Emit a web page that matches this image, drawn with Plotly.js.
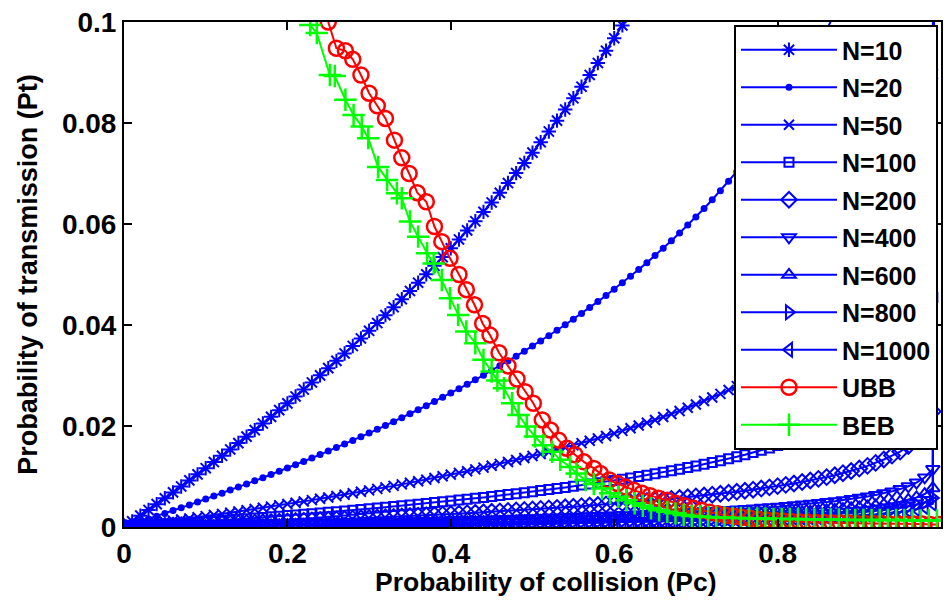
<!DOCTYPE html>
<html>
<head>
<meta charset="utf-8">
<script src="https://cdn.plot.ly/plotly-3.0.1.min.js"></script>
<style>html,body{margin:0;padding:0;background:#fff;}#chart{width:944px;height:609px;}</style>
</head>
<body>
<div id="chart"></div>
<script>
// Probability of collision (Pc) grid used by the N curves
const pc = [0,0.01,0.02,0.03,0.04,0.05,0.06,0.07,0.08,0.09,
  0.10,0.11,0.12,0.13,0.14,0.15,0.16,0.17,0.18,0.19,
  0.20,0.21,0.22,0.23,0.24,0.25,0.26,0.27,0.28,0.29,
  0.30,0.31,0.32,0.33,0.34,0.35,0.36,0.37,0.38,0.39,
  0.40,0.41,0.42,0.43,0.44,0.45,0.46,0.47,0.48,0.49,
  0.50,0.51,0.52,0.53,0.54,0.55,0.56,0.57,0.58,0.59,
  0.60,0.61,0.62,0.63,0.64,0.65,0.66,0.67,0.68,0.69,
  0.70,0.71,0.72,0.73,0.74,0.75,0.76,0.77,0.78,0.79,
  0.80,0.81,0.82,0.83,0.84,0.85,0.86,0.87,0.88,0.89,
  0.90,0.91,0.92,0.93,0.94,0.95,0.96,0.97,0.98,0.99,1.00];

const ptN10 = [0,0.001116,0.002242,0.003379,0.004526,0.005683,0.006851,0.008031,0.009222,0.010424,
  0.011639,0.012865,0.014103,0.015354,0.016619,0.017896,0.019186,0.020490,0.021809,0.023141,
  0.024489,0.025851,0.027229,0.028623,0.030033,0.031459,0.032903,0.034364,0.035842,0.037339,
  0.038856,0.040391,0.041946,0.043522,0.045119,0.046738,0.048378,0.050042,0.051729,0.053441,
  0.055178,0.056941,0.058730,0.060547,0.062393,0.064268,0.066174,0.068111,0.070080,0.072086,
  0.074125,0.076201,0.078315,0.080469,0.082664,0.084901,0.087182,0.089510,0.091886,0.094312,
  0.096793,0.099330,0.101926];

const ptN20 = [0,0.000529,0.001063,0.001602,0.002146,0.002696,0.003251,0.003812,0.004379,0.004952,
  0.005530,0.006114,0.006705,0.007303,0.007907,0.008517,0.009135,0.009759,0.010391,0.011030,
  0.011676,0.012330,0.012992,0.013662,0.014340,0.015027,0.015723,0.016428,0.017141,0.017865,
  0.018597,0.019341,0.020094,0.020857,0.021632,0.022418,0.023215,0.024025,0.024846,0.025680,
  0.026527,0.027388,0.028263,0.029152,0.030056,0.030975,0.031911,0.032863,0.033831,0.034818,
  0.035823,0.036849,0.037893,0.038959,0.040046,0.041156,0.042290,0.043447,0.044631,0.045842,
  0.047082,0.048350,0.049650,0.050983,0.052350,0.053755,0.055197,0.056681,0.058207,0.059779,
  0.061401,0.063074,0.064803,0.066591,0.068444,0.070364,0.072359,0.074435,0.076598,0.078856,
  0.081218,0.083692,0.086292,0.089030,0.091925,0.095025,0.098306,0.101816,0.105600];

const ptN50 = [0,0.000205,0.000412,0.000622,0.000833,0.001046,0.001262,0.00148,0.0017,0.001923,
  0.002148,0.002375,0.002606,0.002838,0.003073,0.003311,0.003552,0.003796,0.004042,0.004291,
  0.004544,0.004799,0.005058,0.00532,0.005585,0.005854,0.006126,0.006402,0.006682,0.006966,
  0.007253,0.007544,0.00784,0.00814,0.008444,0.008752,0.009067,0.009385,0.009708,0.010037,
  0.010371,0.010710,0.011055,0.011406,0.011763,0.012127,0.012496,0.012873,0.013257,0.013648,
  0.014046,0.014452,0.014867,0.015290,0.015723,0.016163,0.016615,0.017076,0.017547,0.018030,
  0.018526,0.019032,0.019553,0.020087,0.020634,0.021198,0.021776,0.022373,0.022986,0.023618,
  0.024272,0.024947,0.025646,0.026369,0.027118,0.027896,0.028705,0.029548,0.030429,0.031350,
  0.032313,0.033325,0.034391,0.035516,0.036709,0.037977,0.039331,0.040784,0.042350,0.044047,
  0.045905,0.047954,0.050240,0.052823,0.055800,0.059306,0.063580,0.069062,0.076735,0.089705,1];

const ptN100 = [0,0.000102,0.000204,0.000308,0.000412,0.000518,0.000625,0.000733,0.000842,0.000953,
  0.001064,0.001177,0.001291,0.001407,0.001523,0.001642,0.001761,0.001882,0.002005,0.002128,
  0.002254,0.002381,0.00251,0.00264,0.002772,0.002906,0.003041,0.003179,0.003318,0.003459,
  0.003603,0.003748,0.003896,0.004045,0.004197,0.004351,0.004508,0.004667,0.004829,0.004993,
  0.00516,0.00533,0.005502,0.005678,0.005857,0.006039,0.006224,0.006413,0.006605,0.006801,
  0.007001,0.007206,0.007414,0.007627,0.007844,0.008066,0.008293,0.008525,0.008763,0.009006,
  0.009212,0.009466,0.009726,0.009993,0.010267,0.010548,0.010838,0.011135,0.011443,0.01176,
  0.012087,0.012426,0.012775,0.013138,0.013515,0.013905,0.014311,0.014735,0.015178,0.015640,
  0.016125,0.016635,0.017172,0.017740,0.018341,0.018981,0.019664,0.020397,0.021189,0.022049,
  0.022991,0.024030,0.025189,0.026503,0.028018,0.029807,0.031991,0.034800,0.038745,0.045451,1];

const ptN200 = [0,0.0000505,0.0001015,0.000153,0.000205,0.000258,0.000311,0.000365,0.000419,0.000474,
  0.000529,0.000586,0.000642,0.0007,0.000758,0.000817,0.000876,0.000936,0.000997,0.001059,
  0.001121,0.001185,0.001249,0.001313,0.001379,0.001446,0.001513,0.001581,0.001651,0.001721,
  0.001792,0.001865,0.001938,0.002012,0.002088,0.002165,0.002243,0.002322,0.002402,0.002484,
  0.002567,0.002651,0.002737,0.002825,0.002914,0.003004,0.003096,0.00319,0.003286,0.003384,
  0.003483,0.003585,0.003688,0.003794,0.003902,0.004013,0.004126,0.004241,0.004359,0.00448,
  0.004604,0.004732,0.004862,0.004996,0.005134,0.005275,0.005421,0.005571,0.005726,0.005885,
  0.00605,0.006221,0.006397,0.00658,0.006769,0.006966,0.007172,0.007385,0.007609,0.007842,
  0.008088,0.008345,0.008617,0.008904,0.009209,0.009533,0.00988,0.010252,0.010655,0.011092,
  0.011571,0.0121,0.012692,0.013363,0.014138,0.014941,0.016044,0.017466,0.019465,0.022877,1];

const ptN400 = [0,0.0000252,0.0000506,0.0000763,0.0001023,0.0001286,0.0001551,0.0001819,0.000209,0.0002364,
  0.0002641,0.0002921,0.0003204,0.000349,0.000378,0.0004073,0.000437,0.000467,0.0004974,0.0005281,
  0.0005593,0.0005908,0.0006227,0.000655,0.0006878,0.000721,0.0007547,0.0007887,0.0008233,0.0008584,
  0.0008939,0.00093,0.0009666,0.0010037,0.0010414,0.0010797,0.0011185,0.001158,0.0011981,0.0012388,
  0.0012803,0.0013224,0.0013652,0.0014088,0.0014532,0.0014983,0.0015443,0.0015912,0.0016389,0.0016876,
  0.0017372,0.0017878,0.0018395,0.0018923,0.0019462,0.0020013,0.0020576,0.0021152,0.0021742,0.0022346,
  0.0022965,0.0023599,0.002425,0.0024919,0.0025605,0.0026311,0.0027038,0.0027786,0.0028557,0.0029353,
  0.0030175,0.0031024,0.0031904,0.0032815,0.0033761,0.0034744,0.0035767,0.0036834,0.0037948,0.0039114,
  0.0040337,0.0041622,0.0042977,0.004441,0.0045929,0.0047547,0.0049276,0.0051133,0.0053139,0.005532,
  0.005771,0.006035,0.00633,0.006665,0.007051,0.007508,0.008067,0.008788,0.009805,0.011475,1];

const ptN600 = [0,0.0000168,0.0000337,0.0000509,0.0000682,0.0000856,0.0001033,0.0001212,0.0001392,0.0001574,
  0.0001759,0.0001945,0.0002134,0.0002325,0.0002518,0.0002713,0.0002911,0.0003111,0.0003313,0.0003518,
  0.0003725,0.0003935,0.0004148,0.0004363,0.0004582,0.0004803,0.0005027,0.0005254,0.0005484,0.0005718,
  0.0005955,0.0006195,0.0006438,0.0006686,0.0006937,0.0007192,0.0007451,0.0007713,0.000798,0.0008252,
  0.0008528,0.0008809,0.0009094,0.0009384,0.000968,0.000998,0.0010287,0.0010599,0.0010917,0.0011241,
  0.0011572,0.0011909,0.0012253,0.0012605,0.0012964,0.0013331,0.0013706,0.001409,0.0014483,0.0014885,
  0.0015297,0.001572,0.0016153,0.0016599,0.0017056,0.0017526,0.001801,0.0018509,0.0019022,0.0019552,
  0.00201,0.0020666,0.0021252,0.0021859,0.0022489,0.0023144,0.0023825,0.0024536,0.0025278,0.0026054,
  0.0026869,0.0027725,0.0028627,0.0029582,0.0030594,0.0031672,0.0032823,0.003406,0.0035397,0.0036849,
  0.0038441,0.0040199,0.0042166,0.0044395,0.0046968,0.0050012,0.0053737,0.005854,0.0065309,0.0076881,1];

const ptN800 = [0,0.0000126,0.0000253,0.0000381,0.0000511,0.0000642,0.0000774,0.0000908,0.0001044,0.000118,
  0.0001319,0.0001458,0.00016,0.0001743,0.0001888,0.0002034,0.0002182,0.0002332,0.0002484,0.0002637,
  0.0002793,0.000295,0.000311,0.0003271,0.0003435,0.0003601,0.0003769,0.0003939,0.0004111,0.0004286,
  0.0004464,0.0004644,0.0004827,0.0005012,0.00052,0.0005392,0.0005586,0.0005783,0.0005983,0.0006186,
  0.0006393,0.0006604,0.0006818,0.0007035,0.0007257,0.0007482,0.0007712,0.0007946,0.0008184,0.0008427,
  0.0008675,0.0008928,0.0009186,0.000945,0.0009719,0.0009994,0.0010275,0.0010563,0.0010857,0.0011159,
  0.0011468,0.0011785,0.001211,0.0012444,0.0012787,0.0013139,0.0013502,0.0013876,0.0014261,0.0014658,
  0.0015069,0.0015493,0.0015932,0.0016387,0.001686,0.0017351,0.0017861,0.0018394,0.001895,0.0019533,
  0.0020143,0.0020785,0.0021462,0.0022177,0.0022936,0.0023744,0.0024607,0.0025535,0.0026536,0.0027625,
  0.0028819,0.0030137,0.0031611,0.0033282,0.0035212,0.0037494,0.0040286,0.0043887,0.0048962,0.0057637,1];

const ptN1000 = [0,0.0000101,0.0000202,0.0000305,0.0000409,0.0000513,0.0000619,0.0000726,0.0000835,0.0000944,
  0.0001055,0.0001166,0.000128,0.0001394,0.000151,0.0001627,0.0001745,0.0001865,0.0001987,0.0002109,
  0.0002234,0.000236,0.0002487,0.0002616,0.0002747,0.000288,0.0003014,0.000315,0.0003288,0.0003428,
  0.000357,0.0003714,0.0003861,0.0004009,0.0004159,0.0004312,0.0004467,0.0004625,0.0004785,0.0004948,
  0.0005113,0.0005282,0.0005453,0.0005627,0.0005804,0.0005984,0.0006168,0.0006355,0.0006546,0.000674,
  0.0006938,0.0007141,0.0007347,0.0007558,0.0007773,0.0007993,0.0008218,0.0008448,0.0008684,0.0008925,
  0.0009172,0.0009426,0.0009686,0.0009953,0.0010227,0.0010509,0.0010799,0.0011098,0.0011406,0.0011724,
  0.0012052,0.0012391,0.0012742,0.0013106,0.0013484,0.0013877,0.0014286,0.0014712,0.0015156,0.0015622,
  0.001611,0.0016624,0.0017165,0.0017737,0.0018344,0.001899,0.0019681,0.0020423,0.0021224,0.0022095,
  0.0023049,0.0024104,0.0025283,0.0026619,0.0028163,0.0029988,0.0032221,0.0035101,0.003916,0.0046098,1];

// UBB
const ubbPc = [0.250,0.260,0.271,0.280,0.290,0.300,0.310,0.320,0.331,0.340,
  0.349,0.359,0.370,0.380,0.389,0.399,0.410,0.419,0.429,0.439,
  0.448,0.459,0.470,0.481,0.491,0.501,0.512,0.522,0.532,0.542,
  0.552,0.563,0.575,0.583,0.594,0.604,0.614,0.624,0.634,0.644,
  0.654,0.665,0.675,0.686,0.697,0.707,0.717,0.727,0.737,0.747,
  0.757,0.767,0.777,0.787,0.797,0.807,0.817,0.827,0.837,0.847,
  0.857,0.867,0.877,0.887,0.897,0.907,0.917,0.927,0.937,0.947,
  0.957,0.967,0.977,0.987,0.997];
const ubbPt = [0.1000,0.0948,0.0943,0.0926,0.0895,0.0859,0.0834,0.0809,0.0766,0.0731,
  0.0700,0.0662,0.0644,0.0595,0.0565,0.0532,0.0500,0.0470,0.0440,0.0403,
  0.0380,0.0345,0.0319,0.0293,0.0268,0.0245,0.0212,0.0192,0.0172,0.0156,
  0.0143,0.0129,0.0116,0.0106,0.0093,0.0086,0.0079,0.0073,0.0067,0.0062,
  0.0057,0.0053,0.0047,0.0042,0.0037,0.0033,0.0029,0.0026,0.0023,0.0021,
  0.0019,0.0017,0.0015,0.0014,0.0013,0.0012,0.0011,0.0010,0.0010,0.0009,
  0.0009,0.0008,0.0008,0.0008,0.0007,0.0007,0.0007,0.0007,0.0006,0.0006,
  0.0006,0.0006,0.0006,0.0005,0.0005];

// BEB
const bebPc = [0.228,0.236,0.252,0.258,0.271,0.281,0.291,0.299,0.311,0.322,
  0.334,0.340,0.350,0.360,0.371,0.379,0.389,0.399,0.409,0.419,
  0.430,0.440,0.450,0.457,0.465,0.475,0.483,0.493,0.503,0.513,
  0.524,0.534,0.546,0.554,0.565,0.575,0.585,0.595,0.605,0.615,
  0.625,0.635,0.645,0.655,0.665,0.675,0.685,0.695,0.705,0.715,
  0.725,0.735,0.745,0.755,0.765,0.775,0.785,0.795,0.805,0.815,
  0.825,0.835,0.845,0.855,0.865,0.875,0.885,0.895,0.905,0.915,
  0.925,0.935,0.945,0.955,0.965,0.975,0.985,0.995];
const bebPt = [0.0994,0.0978,0.0895,0.0893,0.0846,0.0816,0.0793,0.0770,0.0713,0.0687,
  0.0661,0.0651,0.0605,0.0575,0.0542,0.0522,0.0489,0.0453,0.0420,0.0387,
  0.0364,0.0331,0.0308,0.0290,0.0275,0.0245,0.0222,0.0199,0.0179,0.0162,
  0.0149,0.0133,0.0119,0.0106,0.0093,0.0085,0.0076,0.0067,0.0060,0.0053,
  0.0047,0.0042,0.0037,0.0033,0.0030,0.0027,0.0024,0.0022,0.0021,0.0020,
  0.0019,0.0019,0.0018,0.0018,0.0017,0.0017,0.0017,0.0016,0.0016,0.0016,
  0.0016,0.0015,0.0015,0.0015,0.0015,0.0015,0.0014,0.0014,0.0014,0.0014,
  0.0014,0.0014,0.0014,0.0014,0.0013,0.0013,0.0013,0.0013];

const seriesNames = ["N=10","N=20","N=50","N=100","N=200","N=400","N=600","N=800","N=1000"];
const seriesPt = [ptN10, ptN20, ptN50, ptN100, ptN200, ptN400, ptN600, ptN800, ptN1000];
const seriesSymbols = ["asterisk-open","circle","x-thin-open","square-open","diamond-open",
  "triangle-down-open","triangle-up-open","triangle-right-open","triangle-left-open"];
const seriesSizes = [12, 5, 10, 9, 12, 12, 12, 12, 12];

const BLUE = "#0000ff";
const traces = seriesNames.map((name, i) => ({
  type: "scatter", mode: "lines+markers", name: name, legendgroup: "g" + i,
  x: pc, y: seriesPt[i],
  line: {color: BLUE, width: 2},
  marker: {symbol: seriesSymbols[i], size: seriesSizes[i], color: BLUE,
           line: {color: BLUE, width: 2}}
}));
traces.push({
  type: "scatter", mode: "lines+markers", name: "UBB", legendgroup: "ubb",
  x: ubbPc, y: ubbPt,
  line: {color: "#ff0000", width: 2},
  marker: {symbol: "circle-open", size: 15, color: "#ff0000", line: {color: "#ff0000", width: 2.5}}
});
traces.push({
  type: "scatter", mode: "lines+markers", name: "BEB", legendgroup: "beb",
  x: bebPc, y: bebPt,
  line: {color: "#00ff00", width: 2},
  marker: {symbol: "cross-thin-open", size: 16, color: "#00ff00", line: {color: "#00ff00", width: 2.5}}
});

const FONT = "Liberation Sans, Arial, sans-serif";
const layout = {
  width: 944, height: 609,
  margin: {l: 124, r: 3, t: 22, b: 82},
  paper_bgcolor: "#ffffff", plot_bgcolor: "#ffffff",
  font: {family: FONT, size: 26, color: "#000"},
  showlegend: true,
  legend: {
    x: 0.9963, xanchor: "right", y: 0.994, yanchor: "top",
    bgcolor: "#ffffff", bordercolor: "#000", borderwidth: 2,
    font: {family: FONT, size: 25, color: "#000", weight: "bold"},
    itemwidth: 96, traceorder: "grouped", tracegroupgap: 2
  },
  xaxis: {
    range: [0, 1], tickvals: [0, 0.2, 0.4, 0.6, 0.8, 1], ticktext: ["0","0.2","0.4","0.6","0.8","1"],
    ticks: "inside", ticklen: 8, tickwidth: 2, tickcolor: "#000",
    showline: true, linecolor: "#000", linewidth: 2, mirror: "ticks",
    showgrid: false, zeroline: false,
    tickfont: {family: FONT, size: 28, weight: "bold"}
  },
  yaxis: {
    range: [0, 0.1], tickvals: [0, 0.02, 0.04, 0.06, 0.08, 0.1], ticktext: ["0","0.02","0.04","0.06","0.08","0.1"],
    ticks: "inside", ticklen: 8, tickwidth: 2, tickcolor: "#000",
    showline: true, linecolor: "#000", linewidth: 2, mirror: "ticks",
    showgrid: false, zeroline: false,
    tickfont: {family: FONT, size: 28, weight: "bold"},
    title: {text: "Probability of transmission (Pt)", font: {family: FONT, size: 27, weight: "bold"}, standoff: 16}
  },
  annotations: [{
    text: "Probability of collision (Pc)", xref: "paper", yref: "paper",
    x: 0.516, y: 0, xanchor: "center", yanchor: "middle", yshift: -55, showarrow: false,
    font: {family: FONT, size: 26.5, weight: "bold", color: "#000"}
  }]
};

Plotly.newPlot("chart", traces, layout, {displayModeBar: false, staticPlot: true});
</script>
</body>
</html>
